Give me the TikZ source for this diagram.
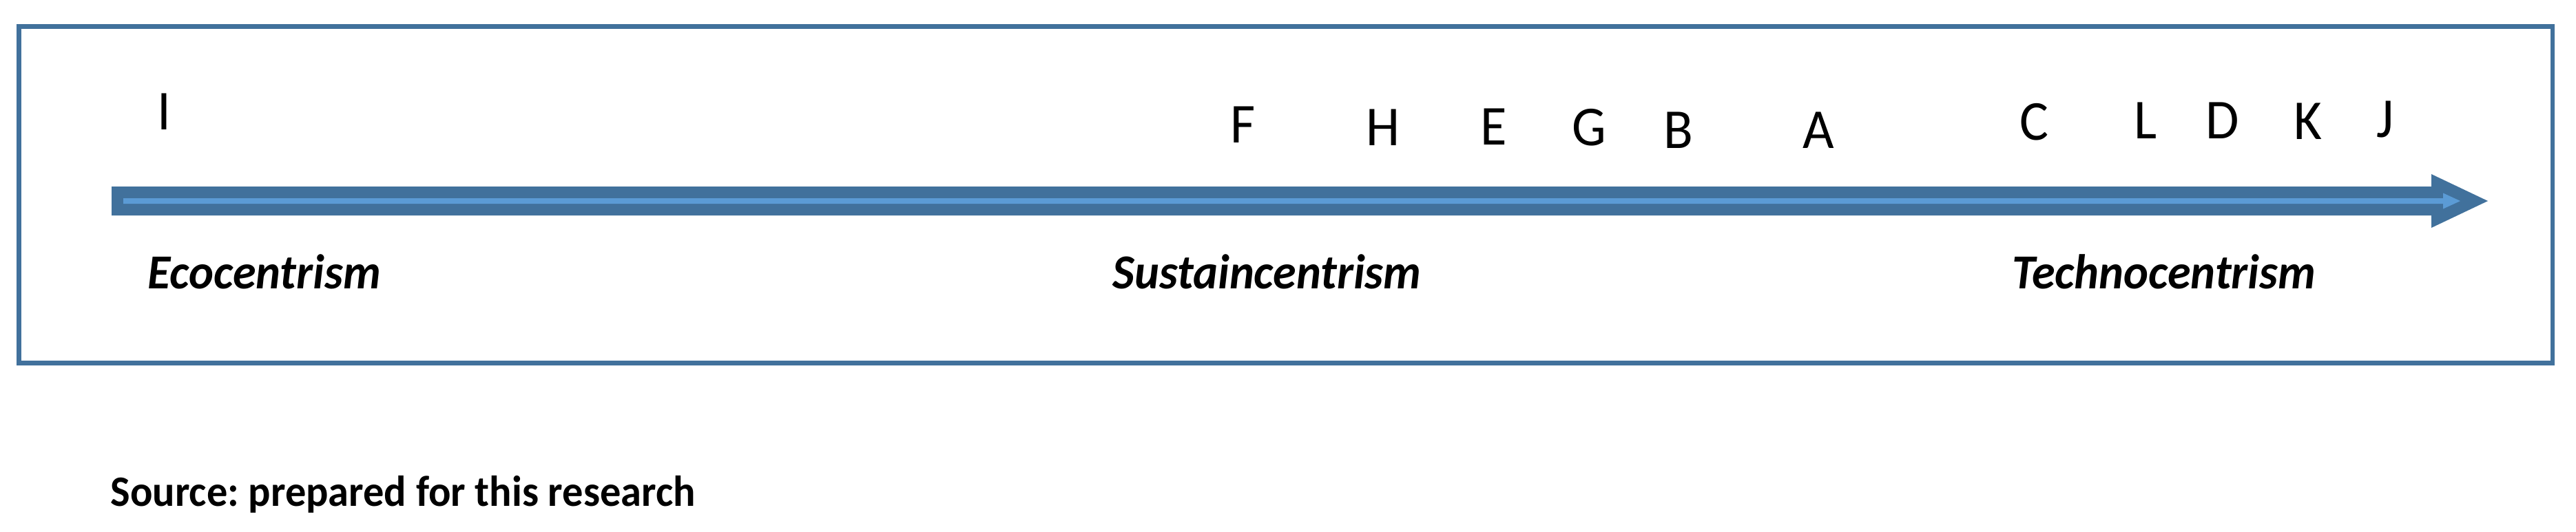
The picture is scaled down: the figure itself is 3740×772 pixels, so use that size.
\documentclass[tikz,border=0pt]{standalone}
\usepackage{fontspec}
\setmainfont{Carlito}[FakeStretch=0.96]
\frenchspacing
\definecolor{framec}{HTML}{41719C}
\definecolor{stripec}{HTML}{5B9BD5}
\begin{document}
\begin{tikzpicture}[x=0.01cm,y=-0.01cm,
  letter/.style={anchor=base,inner sep=0pt,font=\fontsize{23.3pt}{28pt}\selectfont},
  pole/.style={anchor=base west,inner sep=0pt,font=\fontsize{20.2pt}{24pt}\selectfont\bfseries\itshape},
  srcnote/.style={anchor=base west,inner sep=0pt,font=\fontsize{17.9pt}{22pt}\selectfont\bfseries}]
\useasboundingbox (0,0) rectangle (3740,772);
\fill[white] (0,0) rectangle (3740,772);
% frame
\draw[framec,line width=1.9pt] (27.5,38.5) rectangle (3706,527.5);
% block arrow
\coordinate (astart) at (162,292);
\coordinate (atip) at (3612,292);
\fill[framec] (astart) ++(0,-21) -- (3530,271) -- (3530,253) -- (atip) -- (3530,331) -- (3530,313) -- (162,313) -- cycle;
\fill[stripec] (179,288) -- (3547,288) -- (3547,280.5) -- (3572,292) -- (3547,303.5) -- (3547,296) -- (179,296) -- cycle;
% letters
\node[letter] (nI) at (238,188) {I};
\node[letter] (nF) at (1805,207) {F};
\node[letter] (nH) at (2008,211) {H};
\node[letter] (nE) at (2169,210) {E};
\node[letter] (nG) at (2307,211) {G};
\node[letter] (nB) at (2437,215) {B};
\node[letter] (nA) at (2640,215) {A};
\node[letter] (nC) at (2953,203) {C};
\node[letter] (nL) at (3115,201) {L};
\node[letter] (nD) at (3227,201) {D};
\node[letter] (nK) at (3351,202) {K};
\node[letter] (nJ) at (3463,199) {J};
% poles
\node[pole] (eco) at (214,419) {Ecocentrism};
\node[pole] (sus) at (1615,419) {Sustaincentrism};
\node[pole] (tec) at (2921,419) {Technocentrism};
% source
\node[srcnote] (src) at (160,735) {Source: prepared for this research};
\end{tikzpicture}
\end{document}
